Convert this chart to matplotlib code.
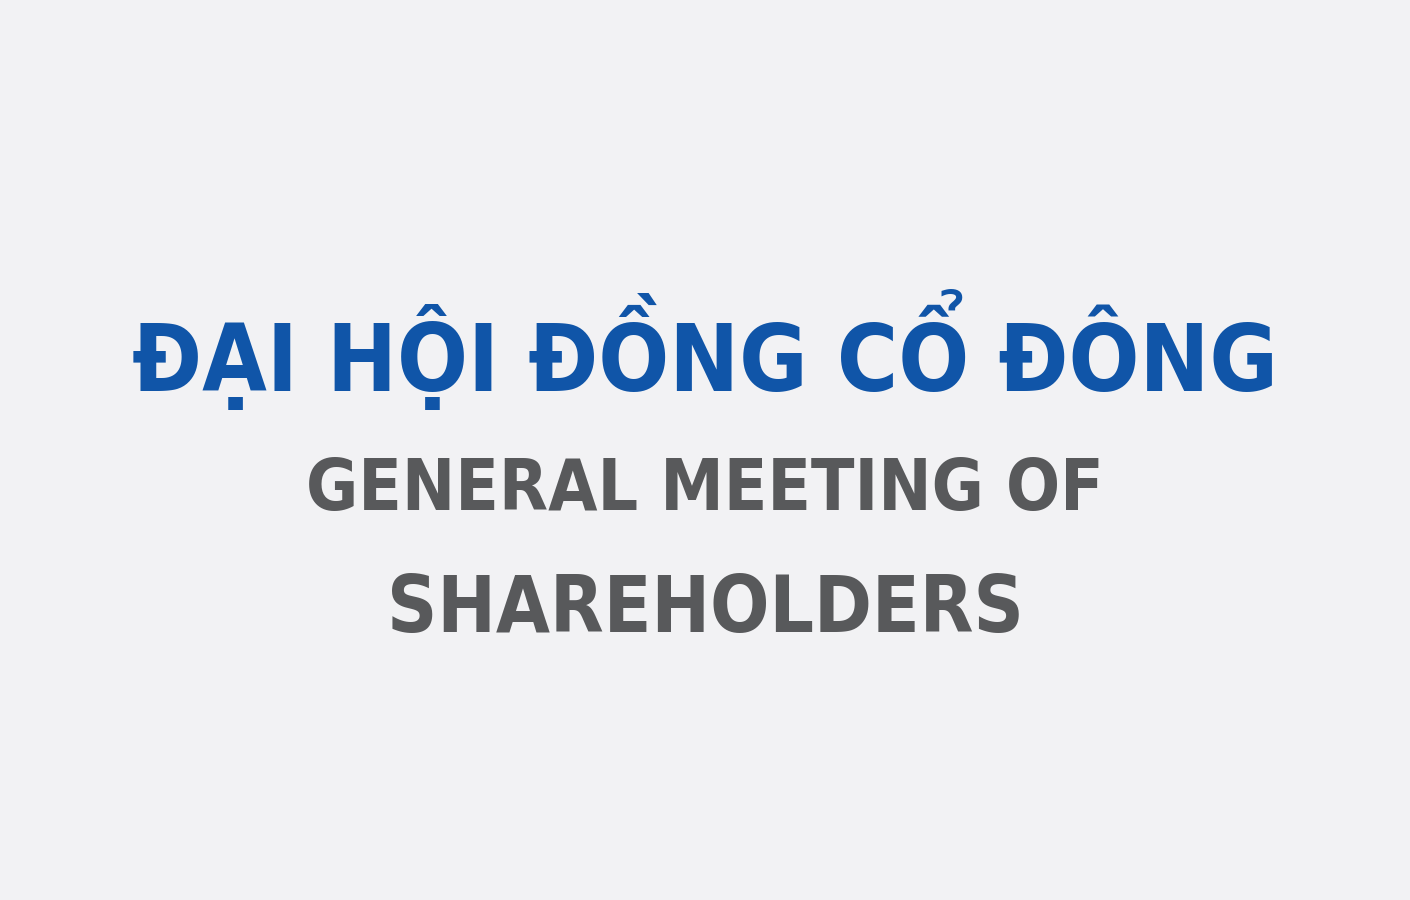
import matplotlib
matplotlib.use("Agg")
import matplotlib.pyplot as plt

lines = ["ĐẠI HỘI ĐỒNG CỔ ĐÔNG", "GENERAL MEETING OF", "SHAREHOLDERS"]
colors = ["#1055a8", "#58595b", "#58595b"]
ypos = [0.612, 0.455, 0.322]
sizes = [67, 51, 56]

fig = plt.figure(figsize=(14.1, 9), dpi=100)
fig.patch.set_facecolor("#f2f2f4")
ax = fig.add_axes([0, 0, 1, 1])
ax.set_axis_off()
ax.set_xlim(0, 1); ax.set_ylim(0, 1)
for t, c, y, s in zip(lines, colors, ypos, sizes):
    ax.text(0.5, y, t, color=c, fontsize=s, fontweight="bold", ha="center", va="center",
            family="DejaVu Sans", fontstretch="condensed")
fig.savefig("out.png", dpi=100, facecolor=fig.get_facecolor())
